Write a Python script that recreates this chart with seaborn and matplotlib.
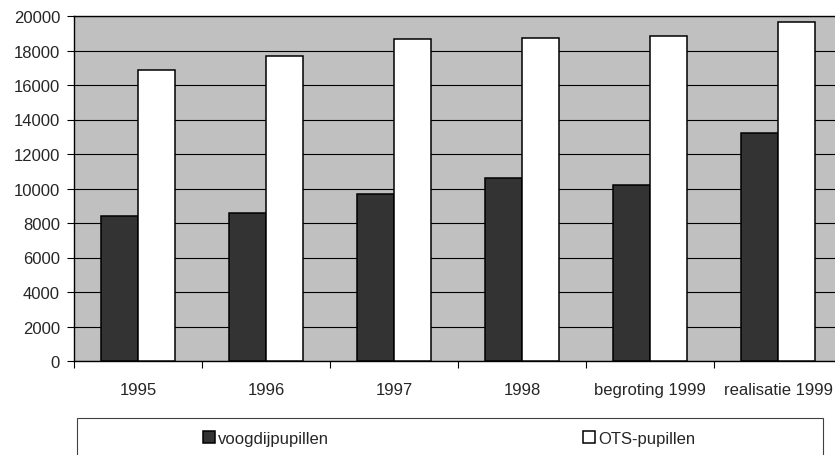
import matplotlib
matplotlib.use("Agg")
import matplotlib.pyplot as plt
import seaborn as sns
import pandas as pd
import numpy as np
from matplotlib.patches import Rectangle

# Gegevens
jaren = ['1995', '1996', '1997', '1998', 'begroting 1999', 'realisatie 1999']
voogdij = [8390, 8580, 9680, 10610, 10220, 13240]
ots = [16850, 17700, 18670, 18710, 18840, 19670]
reeksen = ['voogdijpupillen', 'OTS-pupillen']
y_ticks = list(range(0, 20001, 2000))

df = pd.DataFrame({
    'jaar': jaren * 2,
    'reeks': [reeksen[0]] * len(jaren) + [reeksen[1]] * len(jaren),
    'aantal': voogdij + ots,
})

sns.set_style('white')
plt.rcParams['font.family'] = ['Liberation Sans', 'DejaVu Sans']
plt.rcParams['font.size'] = 12

fig = plt.figure(figsize=(8.35, 4.56), dpi=100)
ax = fig.add_axes([74 / 835, 94 / 456, 768 / 835, 345 / 456])
ax.set_facecolor('#c0c0c0')

sns.barplot(data=df, x='jaar', y='aantal', hue='reeks', order=jaren,
            hue_order=reeksen, palette=['#333333', '#ffffff'],
            width=0.578, edgecolor='black', linewidth=1.1, saturation=1,
            ax=ax, zorder=3)

ax.set_ylim(0, 20000)
ax.set_xlim(-0.5, len(jaren) - 0.5)
ax.set_yticks(y_ticks)
ax.set_yticklabels([str(v) for v in y_ticks], fontsize=12)
ax.yaxis.grid(True, color='black', linewidth=0.8, zorder=0)
ax.set_axisbelow(True)

# tick marks on category boundaries, labels in the middle
ax.set_xticks(np.arange(-0.5, len(jaren), 1.0))
ax.set_xticklabels([])
ax.set_xticks(np.arange(len(jaren)), minor=True)
ax.set_xticklabels(jaren, minor=True, fontsize=12)
ax.tick_params(axis='x', which='major', direction='out', length=5,
               width=0.8, color='black', bottom=True)
ax.tick_params(axis='x', which='minor', length=0, pad=15)
ax.tick_params(axis='y', direction='out', length=5, width=0.8,
               color='black', left=True, pad=5)
ax.set_xlabel('')
ax.set_ylabel('')

for kant in ['left', 'bottom', 'top', 'right']:
    ax.spines[kant].set_visible(True)
    ax.spines[kant].set_color('black')
    ax.spines[kant].set_linewidth(1.0)

handles, labels = ax.get_legend_handles_labels()
ax.get_legend().remove()
fig.legend(handles, labels, loc='center left', ncol=2,
           bbox_to_anchor=(203 / 835, 16.5 / 456), frameon=False,
           borderpad=0, borderaxespad=0, handlelength=0.72,
           handleheight=0.72, handletextpad=0.2, columnspacing=15.2,
           fontsize=12)

fig.patches.append(Rectangle((77 / 835, -0.1), 746 / 835, 37 / 456 + 0.1,
                             transform=fig.transFigure, fill=False,
                             edgecolor='#404040', linewidth=0.8))

fig.savefig('out.png', dpi=100)
